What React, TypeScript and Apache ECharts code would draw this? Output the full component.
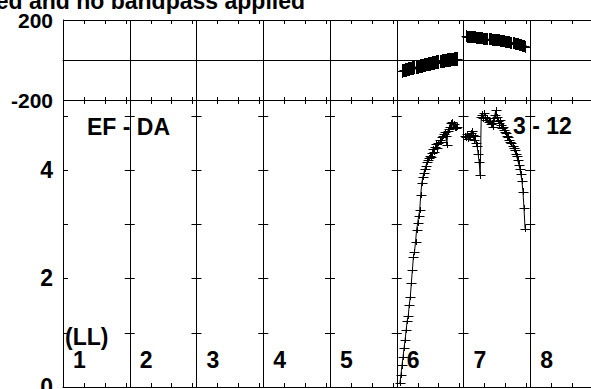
import React, { useEffect, useRef } from 'react';
import * as echarts from 'echarts';

const CHANNELS = 64;
const IF_COUNT = 8;
const ifLabels = ['1', '2', '3', '4', '5', '6', '7', '8'];
const xTickChannels = [20, 40, 60];
const ampTickValues = [1, 2, 3, 4, 5];
const phaseLabelValues = [200, -200];
const ampLabelValues = [0, 2, 4];
const titleText = 'ed and no bandpass applied';
const baselineText = 'EF - DA';
const timeText = '3 - 12';
const polText = '(LL)';

// IF 6 (index 5) and IF 7 (index 6) carry data
const phaseIF6Start = 5;
const phaseIF6 = [
  -55, -53, -52, -50, -49, -47, -46, -45, -43, -42, -41, -39, -38, -37, -35, -34, -33, -31,
  -30, -29, -27, -26, -25, -23, -22, -21, -20, -19, -17, -16, -15, -14, -13, -11, -10, -9,
  -8, -7, -6, -5, -4, -3, -2, -1, 0, 1, 1, 2, 3, 3, 4, 4, 5, 5,
];
const phaseIF6Err = 34;

const phaseIF7Start = 2;
const phaseIF7 = [
  118, 117, 117, 116, 116, 115, 115, 114, 113, 113, 112, 111, 111, 110, 109, 109, 108, 107,
  107, 106, 105, 105, 104, 104, 103, 102, 102, 101, 101, 100, 100, 99, 98, 97, 96, 95, 94,
  93, 92, 91, 90, 89, 88, 87, 85, 84, 83, 82, 80, 79, 78, 76, 75, 73, 72, 70, 69, 67,
];
const phaseIF7Err = 30;

const ampIF6Start = 3;
const ampIF6 = [
  0.07, 0.22, 0.4, 0.55, 0.72, 0.87, 1.05, 1.22, 1.31, 1.51, 1.66, 1.92, 2.16, 2.4, 2.49,
  2.67, 2.89, 3.02, 3.15, 3.26, 3.54, 3.76, 3.87, 3.95, 4.02, 4.08, 4.15, 4.18, 4.22, 4.26,
  4.24, 4.32, 4.38, 4.34, 4.42, 4.47, 4.4, 4.5, 4.55, 4.52, 4.6, 4.63, 4.66, 4.7, 4.62,
  4.46, 4.72, 4.76, 4.8, 4.86, 4.88, 4.8, 4.85, 4.78, 4.77, 4.8,
];

const ampIF7Start = 1;
const ampIF7 = [
  4.62, 4.6, 4.66, 4.58, 4.63, 4.6, 4.68, 4.72, 4.65, 4.55, 4.62, 4.5, 4.45, 4.3, 4.15,
  3.9, 4.98, 5.02, 4.95, 5.05, 4.98, 4.92, 4.96, 4.88, 4.9, 4.84, 4.86, 4.8, 4.95, 5.02,
  5.1, 4.98, 4.9, 4.86, 4.92, 4.82, 4.78, 4.8, 4.74, 4.7, 4.68, 4.62, 4.6, 4.56, 4.52, 4.5,
  4.44, 4.4, 4.36, 4.3, 4.25, 4.18, 4.1, 4.02, 3.92, 3.8, 3.6, 3.3, 2.92,
];
const ampErr = 0.06;

const FONT = '"Liberation Sans", Arial, Helvetica, sans-serif';

function toPoints(values: number[], ifIndex: number, start: number, err: number) {
  return values.map((v, i) => [ifIndex * CHANNELS + start + i, v, err]);
}

const snap = (v: number) => Math.round(v) + 0.5;

const crossRender = (params: any, api: any) => {
  const x = api.value(0);
  const y = api.value(1);
  const e = api.value(2);
  const c = api.coord([x, y]);
  const t = api.coord([x, y + e]);
  const b = api.coord([x, y - e]);
  const cx = snap(c[0]);
  const cy = snap(c[1]);
  const st = { stroke: '#000', lineWidth: 1 };
  return {
    type: 'group',
    children: [
      { type: 'line', shape: { x1: cx - 5, y1: cy, x2: cx + 5, y2: cy }, style: st },
      { type: 'line', shape: { x1: cx, y1: Math.round(t[1]), x2: cx, y2: Math.round(b[1]) }, style: st },
    ],
  };
};

export default function App() {
  const ref = useRef<HTMLDivElement>(null);

  useEffect(() => {
    if (!ref.current) return;
    const chart = echarts.init(ref.current, undefined, { renderer: 'svg' });

    const totalCh = CHANNELS * IF_COUNT;
    const xTicks: number[][] = [];
    for (let k = 0; k < IF_COUNT; k++) {
      xTickChannels.forEach((t) => xTicks.push([k * CHANNELS + t, 0]));
    }
    const yTicks: number[][] = [];
    for (let k = 0; k <= IF_COUNT; k++) {
      ampTickValues.forEach((v) => yTicks.push([k * CHANNELS, v]));
    }

    const st = { stroke: '#000', lineWidth: 1 };
    const axisLine = { show: true, lineStyle: { color: '#000', width: 1 } };
    const splitLine = { show: true, lineStyle: { color: '#000', width: 1 } };

    const pw = 534 / IF_COUNT;
    const graphics: any[] = [
      {
        type: 'text', x: 305, y: 1,
        style: { text: titleText, font: `bold 23px ${FONT}`, fill: '#000', align: 'right', verticalAlign: 'middle' },
      },
      {
        type: 'text', x: 87, y: 127,
        style: { text: baselineText, font: `bold 23px ${FONT}`, fill: '#000', align: 'left', verticalAlign: 'middle' },
      },
      {
        type: 'text', x: 513, y: 126,
        style: { text: timeText, font: `bold 23px ${FONT}`, fill: '#000', align: 'left', verticalAlign: 'middle' },
      },
      {
        type: 'text', x: 65, y: 337,
        style: { text: polText, font: `bold 23px ${FONT}`, fill: '#000', align: 'left', verticalAlign: 'middle' },
      },
      ...ifLabels.map((l, k) => ({
        type: 'text', x: 63 + k * pw + 10, y: 360,
        style: { text: l, font: `bold 23px ${FONT}`, fill: '#000', align: 'left', verticalAlign: 'middle' },
      })),
    ];

    chart.setOption({
      animation: false,
      grid: [
        { left: 63, top: 20, width: 534, height: 80, outerBoundsMode: 'none', containLabel: false },
        { left: 63, top: 100, width: 534, height: 287, outerBoundsMode: 'none', containLabel: false },
      ],
      xAxis: [0, 1].map((gi) => ({
        type: 'value', gridIndex: gi, min: 0, max: totalCh, interval: CHANNELS,
        axisLine, axisTick: { show: false }, axisLabel: { show: false }, splitLine,
      })),
      yAxis: [
        {
          type: 'value', gridIndex: 0, min: -200, max: 200, interval: 200,
          axisLine, axisTick: { show: false }, splitLine,
          axisLabel: {
            margin: 10, color: '#000', fontFamily: FONT, fontWeight: 'bold', fontSize: 21,
            formatter: (v: number) => (phaseLabelValues.includes(v) ? String(v) : ''),
          },
        },
        {
          type: 'value', gridIndex: 1, min: 0, max: 5.29, interval: 1,
          axisLine, axisTick: { show: false }, splitLine: { show: false },
          axisLabel: {
            margin: 10, color: '#000', fontFamily: FONT, fontWeight: 'bold', fontSize: 23,
            formatter: (v: number) => (ampLabelValues.includes(v) ? String(v) : ''),
          },
        },
      ],
      graphic: graphics,
      series: [
        {
          type: 'line', xAxisIndex: 0, yAxisIndex: 0, symbol: 'none', silent: true,
          lineStyle: { color: '#000', width: 1 },
          data: toPoints(phaseIF6, 5, phaseIF6Start, 0).map((p) => [p[0], p[1]]),
        },
        {
          type: 'line', xAxisIndex: 0, yAxisIndex: 0, symbol: 'none', silent: true,
          lineStyle: { color: '#000', width: 1 },
          data: toPoints(phaseIF7, 6, phaseIF7Start, 0).map((p) => [p[0], p[1]]),
        },
        {
          type: 'custom', xAxisIndex: 0, yAxisIndex: 0, silent: true, renderItem: crossRender,
          encode: { x: 0, y: 1 },
          data: toPoints(phaseIF6, 5, phaseIF6Start, phaseIF6Err),
        },
        {
          type: 'custom', xAxisIndex: 0, yAxisIndex: 0, silent: true, renderItem: crossRender,
          encode: { x: 0, y: 1 },
          data: toPoints(phaseIF7, 6, phaseIF7Start, phaseIF7Err),
        },
        {
          type: 'line', xAxisIndex: 1, yAxisIndex: 1, symbol: 'none', silent: true,
          lineStyle: { color: '#000', width: 1 },
          data: toPoints(ampIF6, 5, ampIF6Start, 0).map((p) => [p[0], p[1]]),
        },
        {
          type: 'line', xAxisIndex: 1, yAxisIndex: 1, symbol: 'none', silent: true,
          lineStyle: { color: '#000', width: 1 },
          data: toPoints(ampIF7, 6, ampIF7Start, 0).map((p) => [p[0], p[1]]),
        },
        {
          type: 'custom', xAxisIndex: 1, yAxisIndex: 1, silent: true, renderItem: crossRender,
          encode: { x: 0, y: 1 },
          data: toPoints(ampIF6, 5, ampIF6Start, ampErr),
        },
        {
          type: 'custom', xAxisIndex: 1, yAxisIndex: 1, silent: true, renderItem: crossRender,
          encode: { x: 0, y: 1 },
          data: toPoints(ampIF7, 6, ampIF7Start, ampErr),
        },
        {
          // channel ticks: top edge and middle boundary
          type: 'custom', xAxisIndex: 0, yAxisIndex: 0, silent: true, encode: { x: 0, y: 1 },
          data: xTicks,
          renderItem: (params: any, api: any) => {
            const x = snap(api.coord([api.value(0), 0])[0]);
            const top = api.coord([api.value(0), 200])[1];
            const bot = api.coord([api.value(0), -200])[1];
            return {
              type: 'group',
              children: [
                { type: 'line', shape: { x1: x, y1: top, x2: x, y2: top + 4 }, style: st },
                { type: 'line', shape: { x1: x, y1: bot - 3, x2: x, y2: bot + 4 }, style: st },
              ],
            };
          },
        },
        {
          // channel ticks: bottom edge
          type: 'custom', xAxisIndex: 1, yAxisIndex: 1, silent: true, encode: { x: 0, y: 1 },
          data: xTicks,
          renderItem: (params: any, api: any) => {
            const p = api.coord([api.value(0), 0]);
            const x = snap(p[0]);
            return { type: 'line', shape: { x1: x, y1: p[1] - 4, x2: x, y2: p[1] }, style: st };
          },
        },
        {
          // amplitude ticks on left axis and across IF dividers
          type: 'custom', xAxisIndex: 1, yAxisIndex: 1, silent: true, encode: { x: 0, y: 1 },
          data: yTicks,
          renderItem: (params: any, api: any) => {
            const p = api.coord([api.value(0), api.value(1)]);
            const y = snap(p[1]);
            const x1 = api.value(0) === 0 ? p[0] : p[0] - 5;
            return { type: 'line', shape: { x1, y1: y, x2: p[0] + 5, y2: y }, style: st };
          },
        },
      ],
    });

    return () => chart.dispose();
  }, []);

  return (
    <div
      ref={ref}
      style={{ position: 'fixed', left: 0, top: 0, width: 591, height: 389, background: '#fff' }}
    />
  );
}
